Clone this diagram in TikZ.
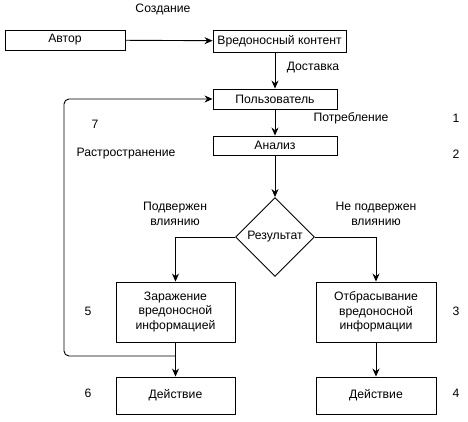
\documentclass[tikz,border=0pt]{standalone}
\usepackage{fontspec}
\setmainfont{Liberation Sans}
\usetikzlibrary{shapes.geometric,arrows.meta}

\begin{document}
\begin{tikzpicture}[x=1pt,y=-1pt,every text node part/.style={align=center},
    font=\fontsize{12.2}{14.5}\selectfont]
  \tikzstyle{block}=[rectangle,draw,line width=0.9pt,inner sep=1pt]
  \tikzstyle{decision}=[diamond,draw,line width=0.9pt,inner sep=0pt,
    minimum size=79pt]
  \tikzstyle{arr}=[draw,line width=0.9pt,-{Stealth[length=8pt,width=7pt]}]
  \tikzstyle{lbl}=[inner sep=1pt]

  \useasboundingbox (0,0) rectangle (468,422);

  % boxes
  \node [block,minimum width=120pt,minimum height=20pt] (author) at (65,40) {Автор};
  \node [block,minimum width=133pt,minimum height=22pt] (content) at (279.5,41) {Вредоносный контент};
  \node [block,minimum width=124pt,minimum height=20pt] (user) at (275,99) {Пользователь};
  \node [block,minimum width=124pt,minimum height=19pt] (analysis) at (275,145.5) {Анализ};
  \node [decision] (result) at (275,237) {Результат};
  \node [block,minimum width=119pt,minimum height=60pt] (infect) at (175.5,312) {
    Заражение\\вредоносной\\информацией};
  \node [block,minimum width=120pt,minimum height=60pt] (discard) at (376,312) {
    Отбрасывание\\вредоносной\\информации};
  \node [block,minimum width=119pt,minimum height=37pt] (action1) at (175.5,395.5) {Действие};
  \node [block,minimum width=120pt,minimum height=37pt] (action2) at (376,395.5) {Действие};

  % labels
  \node [lbl] (create) at (163,9) {Создание};
  \node [lbl] (deliver) at (313,68) {Доставка};
  \node [lbl] (consume) at (351,118) {Потребление};
  \node [lbl] (spread) at (126,154) {Растространение};
  \node [lbl] (yes) at (175,214) {Подвержен\\влиянию};
  \node [lbl] (no) at (376,214) {Не подвержен\\влиянию};
  \node [lbl] (num1) at (456,118) {1};
  \node [lbl] (num2) at (456,154) {2};
  \node [lbl] (num3) at (456,311) {3};
  \node [lbl] (num4) at (456,393) {4};
  \node [lbl] (num5) at (88,311) {5};
  \node [lbl] (num6) at (88,393) {6};
  \node [lbl] (num7) at (95,124) {7};

  % connectors
  \draw [arr] (author) -- (content);
  \draw [arr] (content.south -| user.north) -- (user.north);
  \draw [arr] (user) -- (analysis);
  \draw [arr] (analysis) -- (result);
  \draw [arr] (result.west) -| (infect.north);
  \draw [arr] (result.east) -| (discard.north);
  \draw [arr] (infect) -- (action1);
  \draw [arr] (discard) -- (action2);

  % feedback loop
  \coordinate (split) at (175.5,356);
  \coordinate (turn) at (64,230);
  \draw [arr,rounded corners=5pt] (split) -| (turn) |- (user.west);
\end{tikzpicture}
\end{document}
